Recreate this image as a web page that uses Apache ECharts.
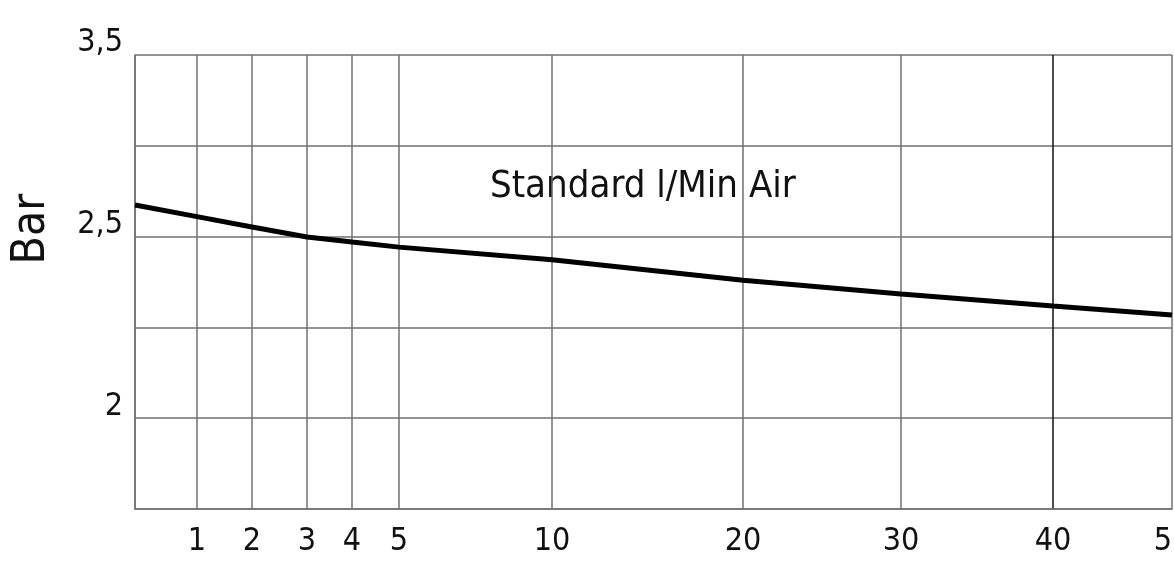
<!DOCTYPE html>
<html><head><meta charset="utf-8">
<script src="https://cdn.jsdelivr.net/npm/echarts@6/dist/echarts.min.js"></script>
<style>html,body{margin:0;padding:0;background:#fff}#c{width:1174px;height:563px}</style>
</head><body><div id="c"></div>
<script>
// ---- data ----
const xTickValues = [0, 1, 2, 3, 4, 5, 10, 20, 30, 40, 50];
const xTickLabels = ['', '1', '2', '3', '4', '5', '10', '20', '30', '40', '50'];
const yTickValues = [1.75, 2, 2.25, 2.5, 3, 3.5];
const yTickLabels = ['', '2', '', '2,5', '', '3,5'];
const flowLMin = [0, 1, 2, 3, 4, 5, 10, 20, 30, 40, 50];
const pressureBar = [2.674, 2.61, 2.553, 2.499, 2.485, 2.471, 2.436, 2.38, 2.342, 2.309, 2.284];

// ---- hand-drawn (irregular) axis scales ----
const xAxisScale = [0, 62, 117, 172, 217, 264, 417, 608, 766, 918, 1037];
const yAxisScale = yTickValues.map((_, i) => i);
function piecewise(v, from, to) {
  const n = from.length;
  let i = 0;
  while (i < n - 2 && v > from[i + 1]) i++;
  const t = (v - from[i]) / (from[i + 1] - from[i]);
  return to[i] + t * (to[i + 1] - to[i]);
}
const toX = v => piecewise(v, xTickValues, xAxisScale);
const toY = v => piecewise(v, yTickValues, yAxisScale);

const FONT = "'Liberation Sans Narrow', 'DejaVu Sans Condensed', 'Roboto Condensed', 'Noto Sans', sans-serif";
const GRID = '#707070';

const chart = echarts.init(document.getElementById('c'), null, {renderer: 'canvas'});
chart.setOption({
  backgroundColor: '#fff',
  animation: false,
  grid: {left: 135, right: 2, top: 55, bottom: 54, containLabel: false, outerBoundsMode: 'none'},
  xAxis: {
    type: 'value', min: 0, max: xAxisScale[xAxisScale.length - 1],
    axisLine: {show: true, lineStyle: {color: GRID, width: 1.5}},
    axisTick: {show: false, customValues: xAxisScale},
    axisLabel: {
      customValues: xAxisScale.slice(1),
      formatter: v => xTickLabels[xAxisScale.indexOf(v)] || '',
      color: '#111', fontFamily: FONT, fontSize: 32, margin: 17
    },
    splitLine: {show: true, lineStyle: {
      color: [GRID, GRID, GRID, GRID, GRID, GRID, GRID, GRID, GRID, '#111', GRID],
      width: 1.5}}
  },
  yAxis: {
    type: 'value', min: 0, max: yAxisScale[yAxisScale.length - 1], interval: 1,
    axisLine: {show: true, lineStyle: {color: GRID, width: 1.5}},
    axisTick: {show: false},
    axisLabel: {
      formatter: v => yTickLabels[Math.round(v)] || '',
      color: '#111', fontFamily: FONT, fontSize: 32, margin: 12,
      verticalAlign: 'bottom', lineHeight: 24
    },
    splitLine: {show: true, lineStyle: {color: GRID, width: 1.5}}
  },
  graphic: [
    {type: 'text', x: 32, y: 229, rotation: Math.PI / 2,
     style: {text: 'Bar', fill: '#111', font: "46px " + FONT, align: 'center', verticalAlign: 'middle'}},
    {type: 'text', x: 490, y: 187,
     style: {text: 'Standard l/Min Air', fill: '#111', font: "38px " + FONT, align: 'left', verticalAlign: 'middle'}}
  ],
  series: [{
    type: 'line', showSymbol: false, smooth: false,
    lineStyle: {color: '#000', width: 5},
    data: flowLMin.map((f, i) => [toX(f), toY(pressureBar[i])])
  }]
});
</script></body></html>
